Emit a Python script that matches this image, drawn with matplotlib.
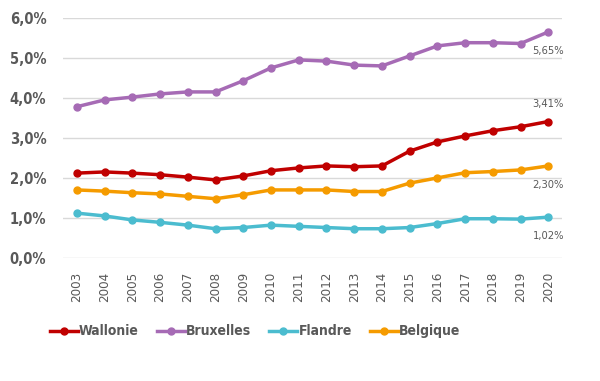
import matplotlib.pyplot as plt
from matplotlib.ticker import FuncFormatter

# Données
annees = list(range(2003, 2021))
wallonie = [2.12, 2.15, 2.12, 2.08, 2.02, 1.95, 2.05, 2.18, 2.25, 2.30, 2.28, 2.30, 2.67, 2.90, 3.05, 3.18, 3.28, 3.41]
bruxelles = [3.78, 3.95, 4.02, 4.10, 4.15, 4.15, 4.43, 4.75, 4.95, 4.92, 4.82, 4.80, 5.05, 5.30, 5.38, 5.38, 5.36, 5.65]
flandre = [1.12, 1.05, 0.95, 0.89, 0.82, 0.73, 0.76, 0.82, 0.79, 0.76, 0.73, 0.73, 0.76, 0.86, 0.98, 0.98, 0.97, 1.02]
belgique = [1.70, 1.67, 1.63, 1.60, 1.54, 1.48, 1.58, 1.70, 1.70, 1.70, 1.66, 1.66, 1.87, 2.00, 2.13, 2.16, 2.20, 2.30]

series = [("Wallonie", wallonie, "#C00000"),
          ("Bruxelles", bruxelles, "#A66BB5"),
          ("Flandre", flandre, "#4BBCCF"),
          ("Belgique", belgique, "#F59B00")]

gris = "#595959"
plt.rcParams['font.family'] = ['DejaVu Sans']
plt.rcParams['font.stretch'] = 'condensed'

fig = plt.figure(figsize=(6, 3.81), dpi=100)
ax = fig.add_axes([0.105, 0.323, 0.832, 0.63])

for nom, vals, col in series:
    ax.plot(annees, vals, color=col, lw=2.5, marker='o', ms=5, label=nom)

# Etiquettes de fin
ax.annotate("5,65%", (annees[-1], bruxelles[-1]), xytext=(0, -10), textcoords='offset points',
            ha='center', va='top', fontsize=8, color=gris)
ax.annotate("3,41%", (annees[-1], wallonie[-1]), xytext=(0, 9), textcoords='offset points',
            ha='center', va='bottom', fontsize=8, color=gris)
ax.annotate("2,30%", (annees[-1], belgique[-1]), xytext=(0, -10), textcoords='offset points',
            ha='center', va='top', fontsize=8, color=gris)
ax.annotate("1,02%", (annees[-1], flandre[-1]), xytext=(0, -10), textcoords='offset points',
            ha='center', va='top', fontsize=8, color=gris)

ax.set_ylim(0, 6)
ax.set_xlim(2002.5, 2020.5)
ax.set_yticks([0, 1, 2, 3, 4, 5, 6])
ax.yaxis.set_major_formatter(FuncFormatter(lambda v, p: f"{v:.1f}%".replace('.', ',')))
ax.set_xticks(annees)
ax.set_xticklabels([str(a) for a in annees], rotation=90)
ax.tick_params(axis='both', length=0, colors=gris)
ax.tick_params(axis='x', labelsize=9.5, pad=10)
ax.tick_params(axis='y', labelsize=10.5, pad=12)
for t in ax.get_yticklabels():
    t.set_fontweight('bold')
ax.grid(axis='y', color='#D9D9D9', lw=1)
ax.set_axisbelow(True)
for s in ax.spines.values():
    s.set_visible(False)

leg = ax.legend(loc='upper center', bbox_to_anchor=(0.385, -0.225), ncol=4, frameon=False,
                fontsize=10, labelcolor=gris, handlelength=2.0, handletextpad=0.1, columnspacing=1.3)
for t in leg.get_texts():
    t.set_fontweight('bold')

fig.savefig("out.png", dpi=100)
